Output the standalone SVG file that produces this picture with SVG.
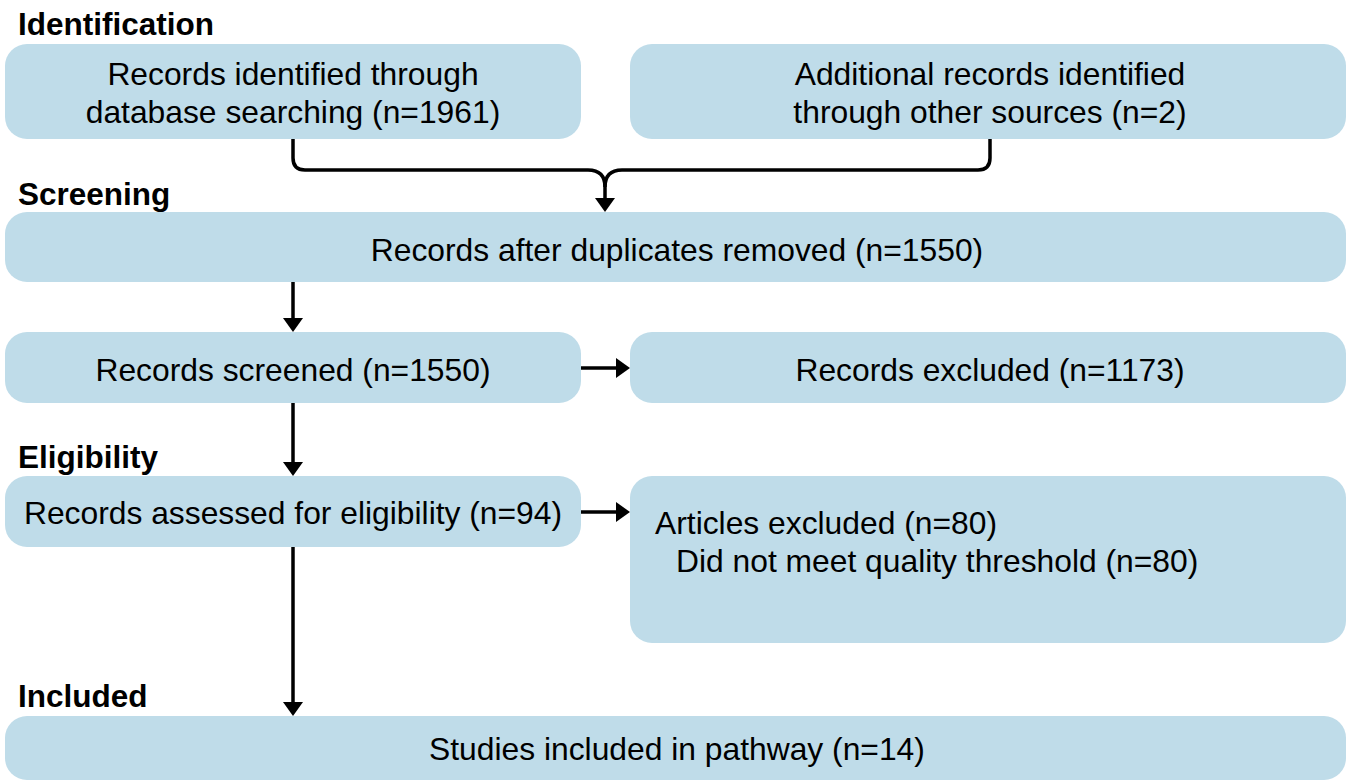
<svg xmlns="http://www.w3.org/2000/svg" width="1351" height="782" viewBox="0 0 1351 782">
<style>
.box{fill:#bfdce9;stroke:none}
.t{font-family:"Liberation Sans",Arial,sans-serif;font-size:31.8px;fill:#000}
.c{text-anchor:middle}
.h{font-family:"Liberation Sans",Arial,sans-serif;font-size:31.5px;font-weight:bold;fill:#000}
.ln{fill:none;stroke:#000;stroke-width:3.5}
.ah{fill:#000}
</style>
<g id="labels">
<text class="h" x="18" y="35">Identification</text>
<text class="h" x="18" y="205">Screening</text>
<text class="h" x="18" y="468">Eligibility</text>
<text class="h" x="18" y="707">Included</text>
</g>
<g id="n1"><rect class="box" x="5" y="44" width="576" height="95" rx="22"/>
<text class="t c" x="293" y="85">Records identified through</text>
<text class="t c" x="293" y="123">database searching (n=1961)</text></g>
<g id="n2"><rect class="box" x="630" y="44" width="716" height="95" rx="22"/>
<text class="t c" x="990" y="85">Additional records identified</text>
<text class="t c" x="990" y="123">through other sources (n=2)</text></g>
<g id="n3"><rect class="box" x="5" y="212" width="1341" height="70" rx="22"/>
<text class="t c" x="677" y="261">Records after duplicates removed (n=1550)</text></g>
<g id="n4"><rect class="box" x="5" y="332" width="576" height="71" rx="22"/>
<text class="t c" x="293" y="381">Records screened (n=1550)</text></g>
<g id="n5"><rect class="box" x="630" y="332" width="716" height="71" rx="22"/>
<text class="t c" x="990" y="381">Records excluded (n=1173)</text></g>
<g id="n6"><rect class="box" x="5" y="476" width="576" height="71" rx="22"/>
<text class="t c" x="293" y="524">Records assessed for eligibility (n=94)</text></g>
<g id="n7"><rect class="box" x="630" y="476" width="716" height="167" rx="22"/>
<text class="t" x="655" y="534">Articles excluded (n=80)</text>
<text class="t" x="676" y="572">Did not meet quality threshold (n=80)</text></g>
<g id="n8"><rect class="box" x="5" y="716" width="1341" height="64" rx="22"/>
<text class="t c" x="677" y="760">Studies included in pathway (n=14)</text></g>
<g id="connectors">
<path class="ln" d="M293,139 V158 Q293,170 305,170 H588 Q605,170 605,187 V199"/>
<path class="ln" d="M990,139 V158 Q990,170 978,170 H622 Q605,170 605,187"/>
<path class="ah" d="M595,198 H615 L605,212 Z"/>
<line class="ln" x1="293" y1="282" x2="293" y2="319"/>
<path class="ah" d="M283,318 H303 L293,332 Z"/>
<line class="ln" x1="581" y1="368" x2="617" y2="368"/>
<path class="ah" d="M616,358 V378 L630,368 Z"/>
<line class="ln" x1="293" y1="403" x2="293" y2="463"/>
<path class="ah" d="M283,462 H303 L293,476 Z"/>
<line class="ln" x1="581" y1="512" x2="617" y2="512"/>
<path class="ah" d="M616,502 V522 L630,512 Z"/>
<line class="ln" x1="293" y1="547" x2="293" y2="703"/>
<path class="ah" d="M283,702 H303 L293,716 Z"/>
</g>
</svg>
